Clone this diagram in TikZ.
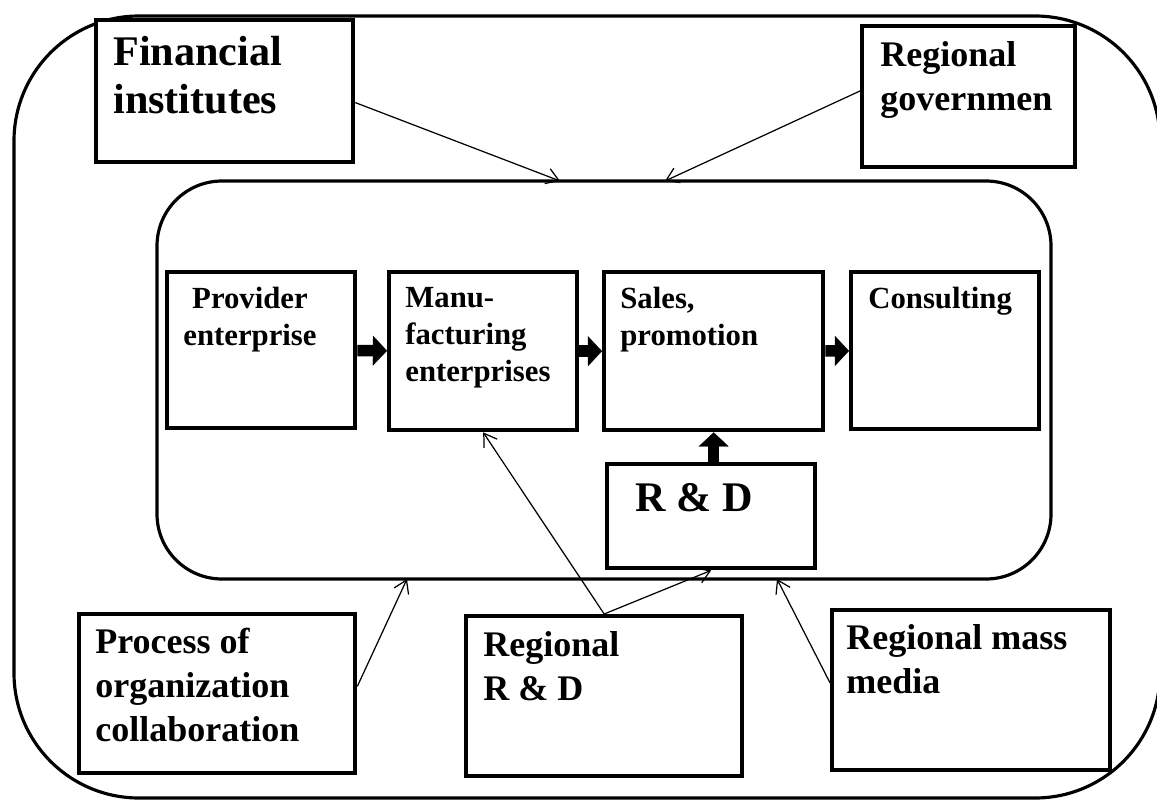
\documentclass[tikz,border=0pt]{standalone}
\usepackage{fontspec}
\setmainfont{Liberation Serif}
\usetikzlibrary{arrows.meta}
\tikzset{box/.style={draw,fill=white,line width=2.5pt,anchor=north west,inner sep=0pt},
txt/.style={anchor=north west,inner sep=0pt,align=left},
big/.style={font=\fontsize{24}{27}\selectfont\bfseries},
mid/.style={font=\fontsize{20.5}{25}\selectfont\bfseries},
small/.style={font=\fontsize{17.5}{21}\selectfont\bfseries},
link/.style={line width=.7pt,-{Straight Barb[length=7pt,width=9pt]}},
flow/.style={line width=6.5pt,-{Triangle[length=8pt,width=17pt,line width=.1pt]}}}
\begin{document}
\begin{tikzpicture}[x=.02cm,y=-.02cm]
\useasboundingbox(0,0)rectangle(1157,801);
\draw[line width=1.8pt,rounded corners=2.5cm](14,16)rectangle(1160,798);
\draw[line width=1.8pt,rounded corners=1.3cm](157,181)rectangle(1051,579);
\node[box,minimum width=5.14cm,minimum height=2.84cm](fin)at(94,18){};
\node[box,minimum width=4.26cm,minimum height=2.82cm](gov)at(860,24){};
\node[box,minimum width=3.76cm,minimum height=3.12cm](prov)at(165,270){};
\node[box,minimum width=3.76cm,minimum height=3.16cm](manu)at(387,270){};
\node[box,minimum width=4.38cm,minimum height=3.16cm](sales)at(602,270){};
\node[box,minimum width=3.76cm,minimum height=3.14cm](cons)at(849,270){};
\node[box,minimum width=4.16cm,minimum height=2.08cm](rd)at(605,462){};
\node[box,minimum width=5.52cm,minimum height=3.18cm](proc)at(77,612){};
\node[box,minimum width=5.52cm,minimum height=3.2cm](rrd)at(464,614){};
\node[box,minimum width=5.56cm,minimum height=3.2cm](media)at(830,608){};
\coordinate(tA)at(560,181);\coordinate(tB)at(665,181);\coordinate(tC)at(407,579);\coordinate(tD)at(777,579);
\draw[link](fin.-5)--(tA);\draw[link](gov.177)--(tB);\draw[link](proc.3)--(tC);\draw[link](media.177)--(tD);
\draw[link](rrd.north)--(manu.south);\draw[link](rrd.north)--(rd.south);
\draw[flow](prov)--(manu);\draw[flow](manu)--(sales);\draw[flow](sales)--(cons);\draw[flow](rd.north-|sales.south)--(sales.south);
\node[txt,big](finT)at(113,36){Financial\\institutes};
\node[txt,mid](govT)at(880,41){Regional\\governmen};
\node[txt,small,anchor=north,align=center](provT)at(250,287){Provider\\enterprise};
\node[txt,small](manuT)at(405,287){Manu-\\facturing\\enterprises};
\node[txt,small](salesT)at(620,287){Sales,\\promotion};
\node[txt,small](consT)at(868,287){Consulting};
\node[txt,big](rdT)at(635,483){R \& D};
\node[txt,mid](procT)at(95,628){Process of\\organization\\collaboration};
\node[txt,mid](rrdT)at(483,631){Regional\\R \& D};
\node[txt,mid](mediaT)at(846,624){Regional mass\\media};
\end{tikzpicture}
\end{document}
